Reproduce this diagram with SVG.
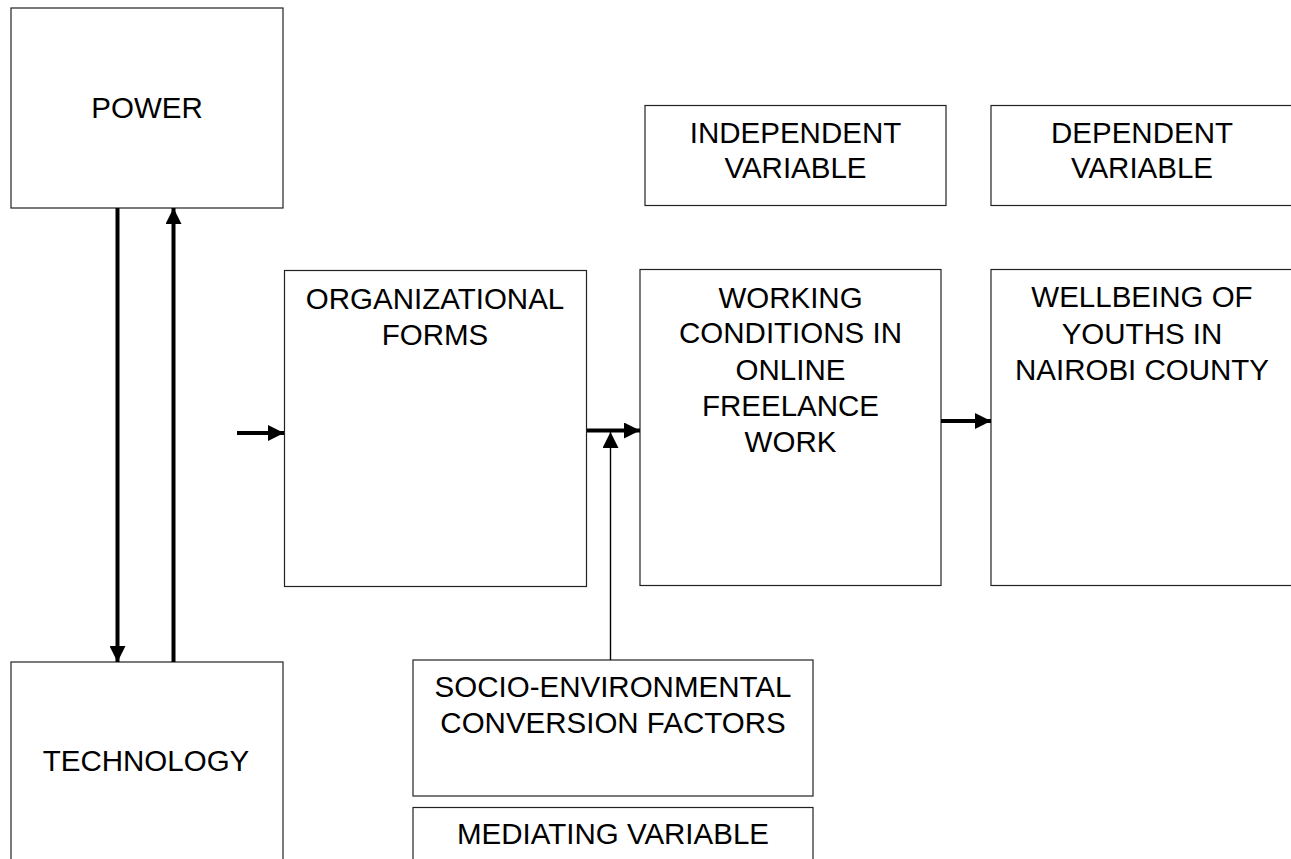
<svg xmlns="http://www.w3.org/2000/svg" width="1291" height="859" viewBox="0 0 1291 859">
<style>
.box{fill:#fff;stroke:#222;stroke-width:1.2}
.t{font-family:"Liberation Sans",Arial,sans-serif;font-size:29.5px;fill:#000;text-anchor:middle}
.thick{stroke:#000;stroke-width:4;fill:none}
.thin{stroke:#000;stroke-width:1.4;fill:none}
</style>
<defs>
<marker id="ah" markerUnits="userSpaceOnUse" markerWidth="16" markerHeight="16" viewBox="0 0 16 16" refX="16" refY="8" orient="auto">
<path d="M0,0 L16,8 L0,16 Z" fill="#000"/>
</marker>
</defs>
<rect width="1291" height="859" fill="#fff"/>
<g id="power"><rect class="box" x="11" y="8" width="272" height="200"/><text class="t" x="147" y="118">POWER</text></g>
<g id="technology"><rect class="box" x="11" y="662" width="272" height="220"/><text class="t" x="146" y="771">TECHNOLOGY</text></g>
<g id="organizational"><rect class="box" x="284.5" y="270.5" width="302" height="316"/><text class="t" x="435" y="309">ORGANIZATIONAL</text><text class="t" x="435" y="345">FORMS</text></g>
<g id="working"><rect class="box" x="640" y="269.5" width="301" height="316"/><text class="t" x="790.5" y="307.5">WORKING</text><text class="t" x="790.5" y="343">CONDITIONS IN</text><text class="t" x="790.5" y="380">ONLINE</text><text class="t" x="790.5" y="415.5">FREELANCE</text><text class="t" x="790.5" y="451.5">WORK</text></g>
<g id="wellbeing"><rect class="box" x="991" y="269.5" width="302" height="316"/><text class="t" x="1142" y="307">WELLBEING OF</text><text class="t" x="1142" y="343.5">YOUTHS IN</text><text class="t" x="1142" y="380">NAIROBI COUNTY</text></g>
<g id="independent"><rect class="box" x="645" y="105.5" width="301" height="100"/><text class="t" x="795.5" y="143">INDEPENDENT</text><text class="t" x="795.5" y="178">VARIABLE</text></g>
<g id="dependent"><rect class="box" x="991" y="105.5" width="302" height="100"/><text class="t" x="1142" y="143">DEPENDENT</text><text class="t" x="1142" y="178">VARIABLE</text></g>
<g id="socio"><rect class="box" x="413" y="660" width="400" height="136"/><text class="t" x="613" y="697">SOCIO-ENVIRONMENTAL</text><text class="t" x="613" y="733">CONVERSION FACTORS</text></g>
<g id="mediating"><rect class="box" x="413" y="807.5" width="400" height="80"/><text class="t" x="613" y="844">MEDIATING VARIABLE</text></g>
<g id="connectors">
<line class="thick" x1="117.5" y1="208" x2="117.5" y2="662" marker-end="url(#ah)"/>
<line class="thick" x1="173.5" y1="662" x2="173.5" y2="208" marker-end="url(#ah)"/>
<line class="thick" x1="237" y1="433" x2="284" y2="433" marker-end="url(#ah)"/>
<line class="thick" x1="587" y1="430.5" x2="640" y2="430.5" marker-end="url(#ah)"/>
<line class="thin" x1="610.5" y1="660" x2="610.5" y2="432" marker-end="url(#ah)"/>
<line class="thick" x1="941" y1="421" x2="991" y2="421" marker-end="url(#ah)"/>
</g>
</svg>
